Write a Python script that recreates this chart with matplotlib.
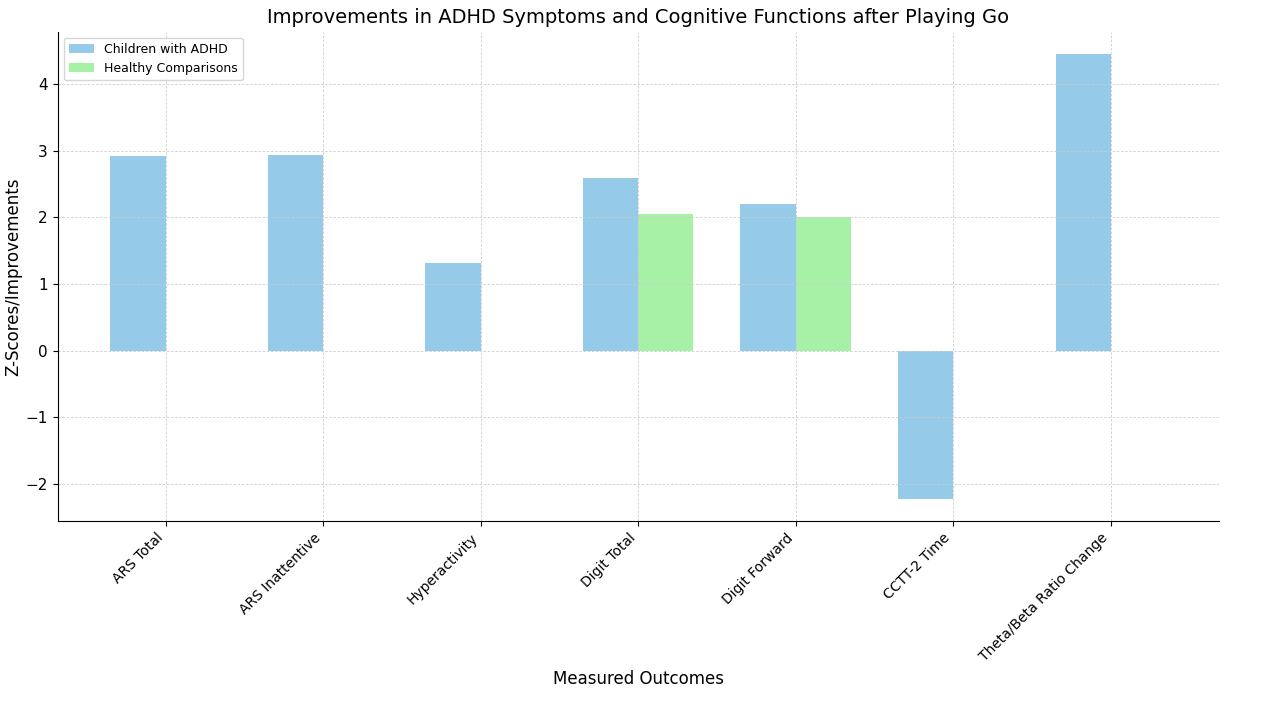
import numpy as np
import matplotlib
matplotlib.use("Agg")
import matplotlib.pyplot as plt

# data
outcomes = ["ARS Total", "ARS Inattentive", "Hyperactivity", "Digit Total",
            "Digit Forward", "CCTT-2 Time", "Theta/Beta Ratio Change"]
adhd = [2.92, 2.94, 1.32, 2.59, 2.20, -2.22, 4.45]
healthy = [0, 0, 0, 2.05, 2.01, 0, 0]

x = np.arange(len(outcomes))
width = 0.35

fig, ax = plt.subplots(figsize=(12.8, 7.04), dpi=100)
ax.bar(x - width / 2, adhd, width, label="Children with ADHD", color="#8fc8e8", alpha=0.95)
ax.bar(x + width / 2, healthy, width, label="Healthy Comparisons", color="lightgreen", alpha=0.8)

ax.set_title("Improvements in ADHD Symptoms and Cognitive Functions after Playing Go", fontsize=14)
ax.set_xlabel("Measured Outcomes", fontsize=12)
ax.set_ylabel("Z-Scores/Improvements", fontsize=12, labelpad=2)
ax.set_xticks(x)
ax.set_xticklabels(outcomes, rotation=45, ha="right", fontsize=10)
ax.tick_params(axis="y", labelsize=11)
ax.legend(fontsize=9, loc="upper left")
ax.grid(True, linestyle=(0, (3, 2)), color="#cccccc", linewidth=0.6)
ax.spines["top"].set_visible(False)
ax.spines["right"].set_visible(False)

plt.subplots_adjust(left=0.045, right=0.952, top=0.955, bottom=0.26)
plt.savefig("out.png")
